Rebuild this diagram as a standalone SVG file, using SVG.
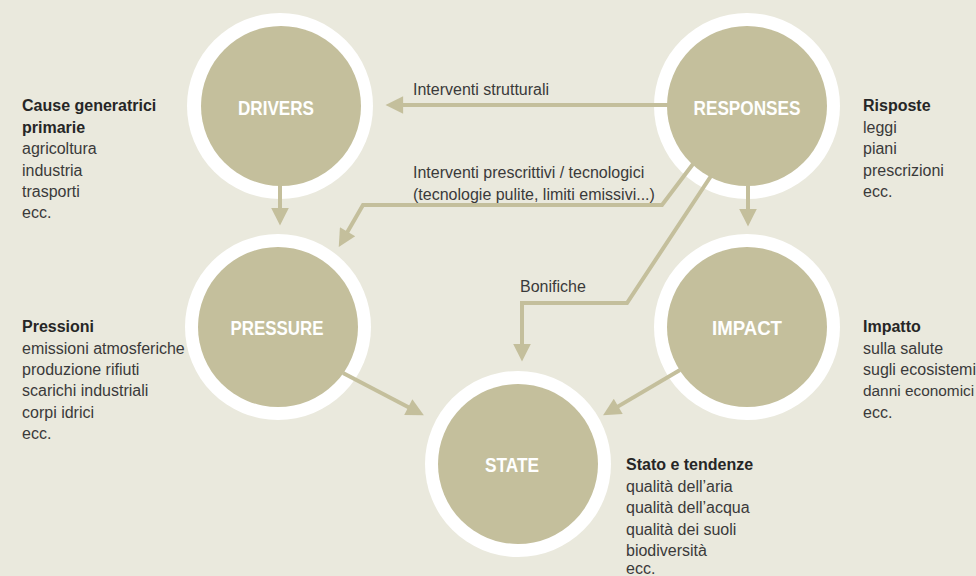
<svg xmlns="http://www.w3.org/2000/svg" width="976" height="576" viewBox="0 0 976 576">
<defs>
<style>
.ring{fill:#ffffff}
.core{fill:#c4bf9c}
.title{font-family:"Liberation Sans",Arial,sans-serif;font-weight:bold;font-size:21px;fill:#ffffff;text-anchor:middle}
.lbl{font-family:"Liberation Sans",Arial,sans-serif;font-size:16px;fill:#3a3a3a}
.b{font-weight:bold;fill:#262626}
.con{fill:none;stroke:#c4bf9c;stroke-width:4}
</style>
<marker id="ah" viewBox="0 0 10 10" refX="2" refY="5" markerWidth="5.5" markerHeight="4.4" orient="auto" markerUnits="strokeWidth">
<path d="M0,0 L10,5 L0,10 z" fill="#c4bf9c"/>
</marker>
</defs>
<rect width="976" height="576" fill="#eae9dd"/>
<g id="drivers">
<circle class="ring" cx="280" cy="106" r="93"/>
<circle class="core" cx="281" cy="106" r="80"/>
<text class="title" x="276" y="115" textLength="76" lengthAdjust="spacingAndGlyphs">DRIVERS</text>
<text class="lbl b" x="22" y="111">Cause generatrici</text>
<text class="lbl b" x="22" y="133">primarie</text>
<text class="lbl" x="22" y="154">agricoltura</text>
<text class="lbl" x="22" y="176">industria</text>
<text class="lbl" x="22" y="197">trasporti</text>
<text class="lbl" x="22" y="218">ecc.</text>
</g>
<g id="responses">
<circle class="ring" cx="747" cy="106" r="93"/>
<circle class="core" cx="747" cy="106" r="80"/>
<text class="title" x="747" y="115" textLength="107" lengthAdjust="spacingAndGlyphs">RESPONSES</text>
<text class="lbl b" x="863" y="111">Risposte</text>
<text class="lbl" x="863" y="133">leggi</text>
<text class="lbl" x="863" y="154">piani</text>
<text class="lbl" x="863" y="176">prescrizioni</text>
<text class="lbl" x="863" y="197">ecc.</text>
</g>
<g id="pressure">
<circle class="ring" cx="278" cy="327" r="93"/>
<circle class="core" cx="278" cy="327" r="80"/>
<text class="title" x="277" y="335" textLength="93" lengthAdjust="spacingAndGlyphs">PRESSURE</text>
<text class="lbl b" x="22" y="332">Pressioni</text>
<text class="lbl" x="22" y="354">emissioni atmosferiche</text>
<text class="lbl" x="22" y="375">produzione rifiuti</text>
<text class="lbl" x="22" y="396">scarichi industriali</text>
<text class="lbl" x="22" y="418">corpi idrici</text>
<text class="lbl" x="22" y="439">ecc.</text>
</g>
<g id="impact">
<circle class="ring" cx="747" cy="327" r="93"/>
<circle class="core" cx="747" cy="327" r="80"/>
<text class="title" x="747" y="335" textLength="70" lengthAdjust="spacingAndGlyphs">IMPACT</text>
<text class="lbl b" x="863" y="332">Impatto</text>
<text class="lbl" x="863" y="354">sulla salute</text>
<text class="lbl" x="863" y="375">sugli ecosistemi</text>
<text class="lbl" x="863" y="396" style="font-size:15.4px">danni economici</text>
<text class="lbl" x="863" y="418">ecc.</text>
</g>
<g id="state">
<circle class="ring" cx="518" cy="464" r="93"/>
<circle class="core" cx="518" cy="464" r="80"/>
<text class="title" x="512" y="472" textLength="54" lengthAdjust="spacingAndGlyphs">STATE</text>
<text class="lbl b" x="626" y="470">Stato e tendenze</text>
<text class="lbl" x="626" y="492">qualità dell’aria</text>
<text class="lbl" x="626" y="513">qualità dell’acqua</text>
<text class="lbl" x="626" y="535">qualità dei suoli</text>
<text class="lbl" x="626" y="556">biodiversità</text>
<text class="lbl" x="626" y="574">ecc.</text>
</g>
<g id="connectors">
<line class="con" x1="280" y1="185" x2="280" y2="211.4" marker-end="url(#ah)"/>
<line class="con" x1="748" y1="185" x2="748" y2="212.4" marker-end="url(#ah)"/>
<line class="con" x1="668" y1="105" x2="399.6" y2="105" marker-end="url(#ah)"/>
<polyline class="con" points="693,164 662,205 363,205 345.8,234.8" marker-end="url(#ah)"/>
<polyline class="con" points="711,176 627,303 522,303 522,347.4" marker-end="url(#ah)"/>
<line class="con" x1="343" y1="373" x2="411.4" y2="408.8" marker-end="url(#ah)"/>
<line class="con" x1="680" y1="370" x2="615.2" y2="408.1" marker-end="url(#ah)"/>
<text class="lbl" x="413" y="95">Interventi strutturali</text>
<text class="lbl" x="413" y="178">Interventi prescrittivi / tecnologici</text>
<text class="lbl" x="413" y="200">(tecnologie pulite, limiti emissivi...)</text>
<text class="lbl" x="520" y="292">Bonifiche</text>
</g>
</svg>
